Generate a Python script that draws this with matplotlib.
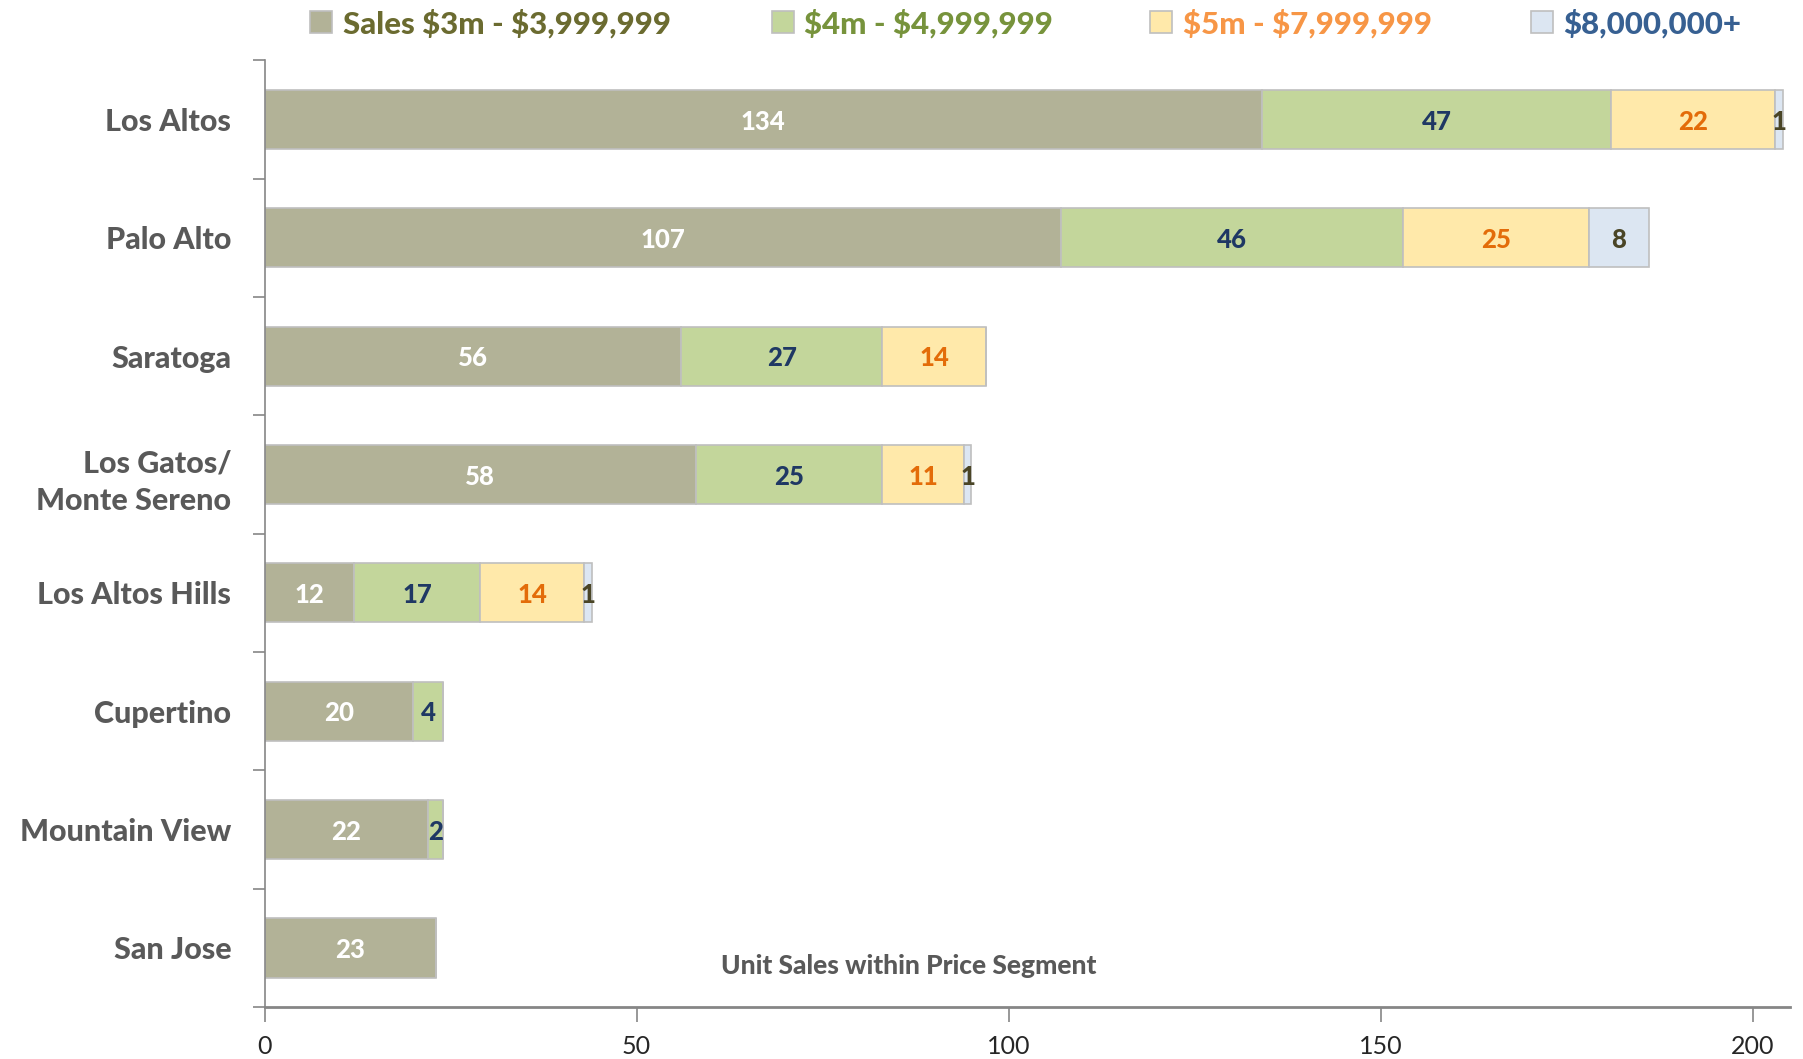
import numpy as np
import matplotlib
matplotlib.use("Agg")
import matplotlib.pyplot as plt
from matplotlib.ticker import FixedLocator

plt.rcParams['font.family'] = ['Lato', 'DejaVu Sans']

# ---------------------------
# Data
# ---------------------------
cities = ["Los Altos", "Palo Alto", "Saratoga", "Los Gatos/\nMonte Sereno",
          "Los Altos Hills", "Cupertino", "Mountain View", "San Jose"]
seg_3m = [134, 107, 56, 58, 12, 20, 22, 23]
seg_4m = [47, 46, 27, 25, 17, 4, 2, 0]
seg_5m = [22, 25, 14, 11, 14, 0, 0, 0]
seg_8m = [1, 8, 0, 1, 1, 0, 0, 0]

series = [seg_3m, seg_4m, seg_5m, seg_8m]
names = [r"Sales \$3m - \$3,999,999", r"\$4m - \$4,999,999",
         r"\$5m - \$7,999,999", r"\$8,000,000+"]
fills = ["#B2B297", "#C3D69B", "#FFE9AA", "#DCE6F2"]
value_colors = ["white", "#1F3864", "#E36C09", "#4A4526"]
legend_colors = ["#6B6B30", "#77933C", "#F79646", "#376092"]
legend_x = [0.172, 0.428, 0.638, 0.849]

# ---------------------------
# Plot
# ---------------------------
fig = plt.figure(figsize=(18.03, 10.59), dpi=100)
ax = fig.add_axes([0.1467, 0.049, 0.8461, 0.894])

y = np.arange(len(cities))
left = np.zeros(len(cities))
handles = []
for vals, name, fc, tc in zip(series, names, fills, value_colors):
    vals = np.array(vals)
    bars = ax.barh(y, vals, left=left, height=0.5, color=fc,
                   edgecolor="#BFBFBF", linewidth=1.2, label=name)
    handles.append(bars)
    for yi, (l, v) in enumerate(zip(left, vals)):
        if v > 0:
            ax.text(l + v / 2, yi, str(v), ha="center", va="center_baseline",
                    color=tc, fontsize=18.5, fontweight="black")
    left = left + vals

ax.set_xlim(0, 205)
ax.set_ylim(len(cities) - 0.5, -0.5)

ax.set_yticks(y)
ax.set_yticklabels(cities, fontsize=22, fontweight="black", color="#595959",
                   linespacing=1.45)
ax.yaxis.set_minor_locator(FixedLocator(np.arange(-0.5, len(cities), 1.0)))
ax.tick_params(axis="y", which="major", length=0, pad=24)
ax.tick_params(axis="y", which="minor", length=9, color="#868686", width=1.2)

ax.set_xticks([0, 50, 100, 150, 200])
ax.tick_params(axis="x", length=11, color="#868686", width=1.2,
               labelsize=18, labelcolor="#262626", pad=9)

for s in ["top", "right"]:
    ax.spines[s].set_visible(False)
ax.spines["left"].set_color("#868686")
ax.spines["left"].set_linewidth(1.2)
ax.spines["bottom"].set_color("#868686")
ax.spines["bottom"].set_linewidth(2)

ax.text(86.5, 7.15, "Unit Sales within Price Segment", ha="center", va="center",
        fontsize=19, fontweight="black", color="#595959")

# one legend entry per series, placed like the original
for h, c, lx in zip(handles, legend_colors, legend_x):
    fig.legend(handles=[h], loc="center left", bbox_to_anchor=(lx, 0.978),
               frameon=False, handlelength=0.7, handleheight=0.7,
               handletextpad=0.35, borderaxespad=0, borderpad=0,
               labelcolor=c, prop={"weight": "black", "size": 22.5})

fig.savefig("out.png", dpi=100)
